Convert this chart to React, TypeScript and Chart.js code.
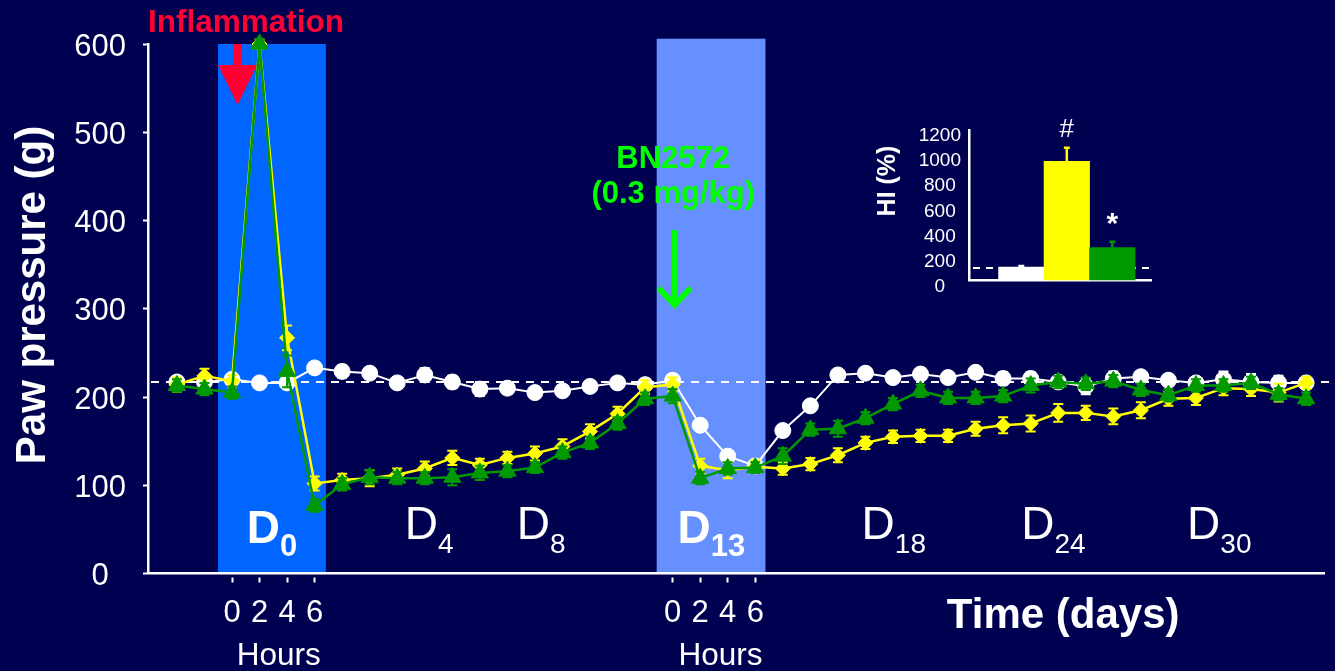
import { useEffect, useRef } from 'react';
import { Chart, registerables } from 'chart.js';

Chart.register(...registerables);

const FONT = '"Liberation Sans", Arial, Helvetica, sans-serif';
Chart.defaults.font.family = FONT;
Chart.defaults.color = '#ffffff';

const BG = '#000050';
const RED = '#FF0033';
const LIME = '#00FF00';
const WHITE = '#FFFFFF';
const YELLOW = '#FFFF00';
const GREEN = '#009900';

// 42 readings: 2 baselines, 4 hourly readings on D0, daily D1–D12,
// 4 hourly readings on D13 (treatment), then daily D14–D33
const TIME_POINTS = [
  'B1', 'B2', 'D0 0h', 'D0 2h', 'D0 4h', 'D0 6h',
  'D1', 'D2', 'D3', 'D4', 'D5', 'D6', 'D7', 'D8', 'D9', 'D10', 'D11', 'D12',
  'D13 0h', 'D13 2h', 'D13 4h', 'D13 6h',
  'D14', 'D15', 'D16', 'D17', 'D18', 'D19', 'D20', 'D21', 'D22', 'D23',
  'D24', 'D25', 'D26', 'D27', 'D28', 'D29', 'D30', 'D31', 'D32', 'D33',
];

// Paw pressure threshold (g)
const CONTROL = [217, 217, 220, 216, 216, 233, 229, 227, 216, 225, 217, 209, 210, 205, 207, 212, 216, 214,
  219, 168, 133, 122, 162, 190, 225, 227, 222, 226, 222, 228, 221, 221, 217, 212, 221, 223, 219, 216, 220, 217, 216, 216];
const VEHICLE = [214, 224, 218, 600, 267, 102, 106, 108, 112, 119, 131, 123, 131, 136, 144, 161, 181, 211,
  214, 122, 117, 121, 119, 124, 134, 148, 155, 156, 156, 164, 168, 170, 182, 182, 178, 185, 198, 199, 210, 209, 205, 216];
const BN2572 = [213, 209, 205, 600, 229, 77, 101, 109, 108, 108, 109, 114, 116, 120, 137, 148, 170, 198,
  201, 108, 119, 120, 133, 163, 164, 176, 192, 207, 199, 199, 201, 213, 217, 215, 218, 208, 202, 213, 213, 216, 203, 198];

// SEM (g)
const CONTROL_SEM = [6, 6, 6, 5, 6, 6, 7, 6, 6, 8, 7, 8, 6, 6, 6, 6, 6, 6, 6, 6, 6, 6, 6, 6, 6, 6, 6, 6, 6, 6, 7, 7, 6, 9, 8, 6, 6, 6, 9, 9, 8, 6];
const VEHICLE_SEM = [8, 8, 7, 5, 14, 8, 7, 9, 7, 8, 8, 7, 7, 8, 8, 8, 8, 8, 8, 8, 9, 7, 7, 7, 8, 7, 7, 7, 7, 8, 9, 9, 10, 8, 9, 9, 8, 8, 8, 8, 10, 7];
const BN2572_SEM = [7, 7, 7, 5, 18, 7, 7, 8, 7, 7, 9, 8, 7, 6, 7, 7, 7, 7, 8, 7, 7, 6, 9, 7, 9, 7, 7, 7, 7, 7, 7, 8, 7, 7, 7, 7, 7, 7, 7, 7, 7, 7];

const BASELINE_THRESHOLD = 217;

// Hyperalgesia index inset
const HI_GROUPS = ['Control', 'Vehicle', 'BN2572'];
const HI_VALUES = [108, 950, 263];
const HI_SEM = [8, 108, 47];
const HI_MARKS = ['', '#', '*'];
const HI_REFERENCE = 100;

const DAY_LABELS = ['0', '4', '8', '13', '18', '24', '30'];

const HOUR_TICKS = TIME_POINTS.map((t, i) => (t.endsWith('h') ? i : -1)).filter((i) => i >= 0);
const hourLabel = (v: number) => {
  const t = TIME_POINTS[v];
  return t && t.endsWith('h') ? t.split(' ')[1].replace('h', '') : '';
};

function drawText(ctx: CanvasRenderingContext2D, str: string, x: number, y: number, size: number,
  opts: { bold?: boolean; color?: string; align?: CanvasTextAlign } = {}) {
  ctx.font = `${opts.bold ? 'bold ' : ''}${size}px ${FONT}`;
  ctx.fillStyle = opts.color || WHITE;
  ctx.textAlign = opts.align || 'left';
  ctx.textBaseline = 'alphabetic';
  ctx.fillText(str, x, y);
}

// Shaded sessions (D0 inflammation, D13 treatment), in time-index units
const BANDS = [
  { from: 1.49, to: 5.41, top: 600, color: '#0066FF' },
  { from: 17.42, to: 21.37, top: 606, color: '#6690FF' },
];

const bandsPlugin = {
  id: 'sessionBands',
  beforeDraw(chart: any) {
    const { ctx, scales: { x, y } } = chart;
    ctx.save();
    for (const b of BANDS) {
      const l = x.getPixelForValue(b.from);
      const r = x.getPixelForValue(b.to);
      const t = y.getPixelForValue(b.top);
      const bottom = y.getPixelForValue(0);
      ctx.fillStyle = b.color;
      ctx.fillRect(l, t, r - l, bottom - t);
    }
    ctx.restore();
  },
};

const baselinePlugin = {
  id: 'baselineThreshold',
  beforeDatasetsDraw(chart: any) {
    const { ctx, chartArea, scales: { y } } = chart;
    const py = y.getPixelForValue(BASELINE_THRESHOLD);
    ctx.save();
    ctx.strokeStyle = WHITE;
    ctx.lineWidth = 2;
    ctx.setLineDash([8, 7]);
    ctx.beginPath();
    ctx.moveTo(chartArea.left + 3, py);
    ctx.lineTo(chartArea.right + 5, py);
    ctx.stroke();
    ctx.restore();
  },
};

const errorBarsPlugin = {
  id: 'semBars',
  beforeDatasetDraw(chart: any, args: any) {
    const ds = chart.data.datasets[args.index];
    const errs: number[] = ds.errors;
    if (!errs) return;
    const { ctx, scales: { y } } = chart;
    ctx.save();
    ctx.strokeStyle = ds.borderColor;
    ctx.lineWidth = 2;
    args.meta.data.forEach((pt: any, i: number) => {
      const v = ds.data[i].y;
      const t = y.getPixelForValue(v + errs[i]);
      const b = y.getPixelForValue(v - errs[i]);
      ctx.beginPath();
      ctx.moveTo(pt.x, t); ctx.lineTo(pt.x, b);
      ctx.moveTo(pt.x - 5, t); ctx.lineTo(pt.x + 5, t);
      ctx.moveTo(pt.x - 5, b); ctx.lineTo(pt.x + 5, b);
      ctx.stroke();
    });
    ctx.restore();
  },
};

const annotationsPlugin = {
  id: 'studyAnnotations',
  afterDraw(chart: any) {
    const { ctx, scales: { x } } = chart;
    ctx.save();

    // Y axis title
    ctx.save();
    ctx.translate(45, 295);
    ctx.rotate(-Math.PI / 2);
    drawText(ctx, 'Paw pressure (g)', 0, 0, 42, { bold: true, align: 'center' });
    ctx.restore();

    // Inflammation onset
    drawText(ctx, 'Inflammation', 148, 32, 31.5, { bold: true, color: RED });
    const ax = x.getPixelForValue(2.2);
    ctx.fillStyle = RED;
    ctx.fillRect(ax - 4, 44, 8, 23);
    ctx.beginPath();
    ctx.moveTo(ax - 19.5, 65);
    ctx.lineTo(ax + 19.5, 65);
    ctx.lineTo(ax, 105);
    ctx.closePath();
    ctx.fill();

    // Treatment
    const tx = x.getPixelForValue(18.02);
    drawText(ctx, 'BN2572', tx, 168, 31, { bold: true, color: LIME, align: 'center' });
    drawText(ctx, '(0.3 mg/kg)', tx, 202.5, 31, { bold: true, color: LIME, align: 'center' });
    const gx = x.getPixelForValue(18.07);
    ctx.strokeStyle = LIME;
    ctx.lineWidth = 5.5;
    ctx.beginPath();
    ctx.moveTo(gx, 230);
    ctx.lineTo(gx, 305);
    ctx.stroke();
    ctx.beginPath();
    ctx.moveTo(gx - 16, 288);
    ctx.lineTo(gx, 305);
    ctx.lineTo(gx + 16, 288);
    ctx.stroke();

    // Day markers
    const dayPos = [2.54, 8.27, 12.34, 18.18, 24.86, 30.66, 36.68];
    const dayBold = [true, false, false, true, false, false, false];
    DAY_LABELS.forEach((d, i) => {
      const left = x.getPixelForValue(dayPos[i]);
      const bold = dayBold[i];
      drawText(ctx, 'D', left, bold ? 543 : 539, 46, { bold });
      const w = ctx.measureText('D').width;
      drawText(ctx, d, left + w, bold ? 556 : 553, bold ? 31 : 28, { bold });
    });

    // Hour captions and time axis title
    [3.7, 19.74].forEach((p) => drawText(ctx, 'Hours', x.getPixelForValue(p), 665, 31.5, { align: 'center' }));
    drawText(ctx, 'Time (days)', x.getPixelForValue(32.18), 628, 42, { bold: true, align: 'center' });

    ctx.restore();
  },
};

function series(label: string, values: number[], errs: number[], color: string, style: string, radius: number, order: number, width: number) {
  return {
    label,
    data: values.map((y, i) => ({ x: i, y })),
    errors: errs,
    borderColor: color,
    backgroundColor: color,
    borderWidth: width,
    pointStyle: style,
    pointRadius: radius,
    pointBackgroundColor: color,
    pointBorderColor: color,
    pointBorderWidth: 1,
    tension: 0,
    order,
    clip: false,
  };
}

const insetPlugin = {
  id: 'hiInset',
  beforeDatasetsDraw(chart: any) {
    const { ctx, chartArea, scales: { y } } = chart;
    const py = y.getPixelForValue(HI_REFERENCE);
    ctx.save();
    ctx.strokeStyle = WHITE;
    ctx.lineWidth = 2;
    ctx.setLineDash([7, 6]);
    ctx.beginPath();
    ctx.moveTo(chartArea.left + 4, py);
    ctx.lineTo(chartArea.right, py);
    ctx.stroke();
    ctx.restore();
  },
  afterDatasetsDraw(chart: any) {
    const { ctx, scales: { y } } = chart;
    const ds = chart.data.datasets[0];
    const meta = chart.getDatasetMeta(0);
    ctx.save();
    meta.data.forEach((bar: any, i: number) => {
      const top = y.getPixelForValue(HI_VALUES[i] + HI_SEM[i]);
      ctx.strokeStyle = ds.backgroundColor[i];
      ctx.lineWidth = 2.5;
      ctx.beginPath();
      ctx.moveTo(bar.x, bar.y);
      ctx.lineTo(bar.x, top);
      ctx.moveTo(bar.x - 3, top);
      ctx.lineTo(bar.x + 3, top);
      ctx.stroke();
      const mark = HI_MARKS[i];
      if (mark === '#') drawText(ctx, mark, bar.x, top - 11, 26, { align: 'center' });
      else if (mark) drawText(ctx, mark, bar.x, top - 9, 30, { bold: true, align: 'center' });
    });
    ctx.restore();
  },
  afterDraw(chart: any) {
    const { ctx } = chart;
    ctx.save();
    ctx.translate(35, 81);
    ctx.rotate(-Math.PI / 2);
    drawText(ctx, 'HI (%)', 0, 0, 25, { bold: true, align: 'center' });
    ctx.restore();
  },
};

export default function App() {
  const mainRef = useRef<HTMLCanvasElement>(null);
  const insetRef = useRef<HTMLCanvasElement>(null);

  useEffect(() => {
    const main = new Chart(mainRef.current as HTMLCanvasElement, {
      type: 'line',
      data: {
        datasets: [
          series('Control', CONTROL, CONTROL_SEM, WHITE, 'circle', 8, 3, 2),
          series('Vehicle', VEHICLE, VEHICLE_SEM, YELLOW, 'rectRot', 7.5, 2, 2.5),
          series('BN2572 (0.3 mg/kg)', BN2572, BN2572_SEM, GREEN, 'triangle', 10, 1, 2.5),
        ] as any,
      },
      options: {
        responsive: false,
        animation: false,
        layout: { padding: { top: 44, right: 10, left: 0, bottom: 0 } },
        plugins: { legend: { display: false }, tooltip: { enabled: false } },
        scales: {
          x: {
            type: 'linear',
            min: -1.05,
            max: 41.65,
            afterBuildTicks: (s: any) => { s.ticks = HOUR_TICKS.map((v) => ({ value: v })); },
            afterFit: (s: any) => { s.height = 97.5; },
            ticks: {
              autoSkip: false,
              maxRotation: 0,
              color: WHITE,
              padding: 12,
              font: { size: 31 },
              callback: (v: any) => hourLabel(Number(v)),
            },
            grid: { drawOnChartArea: false, tickLength: 9, tickColor: WHITE, tickWidth: 2, tickBorderDash: [0, 3, 6, 30] } as any,
            border: { color: WHITE, width: 2.5 },
          },
          y: {
            min: 0,
            max: 600,
            afterFit: (s: any) => { s.width = 148; },
            ticks: { stepSize: 100, color: WHITE, padding: 17, labelOffset: 3, crossAlign: 'center', font: { size: 31 } },
            grid: { drawOnChartArea: false, tickLength: 5, tickColor: WHITE, tickWidth: 2 },
            border: { color: WHITE, width: 2.5 },
          },
        },
      } as any,
      plugins: [bandsPlugin, baselinePlugin, errorBarsPlugin, annotationsPlugin],
    });

    const inset = new Chart(insetRef.current as HTMLCanvasElement, {
      type: 'bar',
      data: {
        datasets: [{
          label: 'HI (%)',
          data: HI_VALUES.map((v, i) => ({ x: i + 1.15, y: v, group: HI_GROUPS[i] })),
          backgroundColor: [WHITE, YELLOW, GREEN],
          borderWidth: 0,
          barPercentage: 1,
          categoryPercentage: 1,
        }] as any,
      },
      options: {
        responsive: false,
        animation: false,
        layout: { padding: { top: 30, right: 9, left: 0, bottom: 0 } },
        plugins: { legend: { display: false }, tooltip: { enabled: false } },
        scales: {
          x: {
            type: 'linear',
            offset: false,
            min: 0,
            max: 4,
            afterFit: (s: any) => { s.height = 15; },
            ticks: { display: false, stepSize: 1 },
            grid: { display: false },
            border: { color: WHITE, width: 2.5 },
          },
          y: {
            min: 0,
            max: 1200,
            afterFit: (s: any) => { s.width = 109; },
            ticks: {
              stepSize: 200, color: WHITE, padding: 8, crossAlign: 'center', labelOffset: 6, font: { size: 19 },
              callback: (v: any) => String(v),
            },
            grid: { drawOnChartArea: false, drawTicks: false },
            border: { color: WHITE, width: 2.5 },
          },
        },
      } as any,
      plugins: [insetPlugin],
    });

    return () => {
      main.destroy();
      inset.destroy();
    };
  }, []);

  return (
    <div style={{ position: 'fixed', left: 0, top: 0, width: 1335, height: 671, background: BG, overflow: 'hidden' }}>
      <canvas ref={mainRef} width={1335} height={671} style={{ position: 'absolute', left: 0, top: 0 }} />
      <canvas ref={insetRef} width={300} height={200} style={{ position: 'absolute', left: 860, top: 100 }} />
    </div>
  );
}
